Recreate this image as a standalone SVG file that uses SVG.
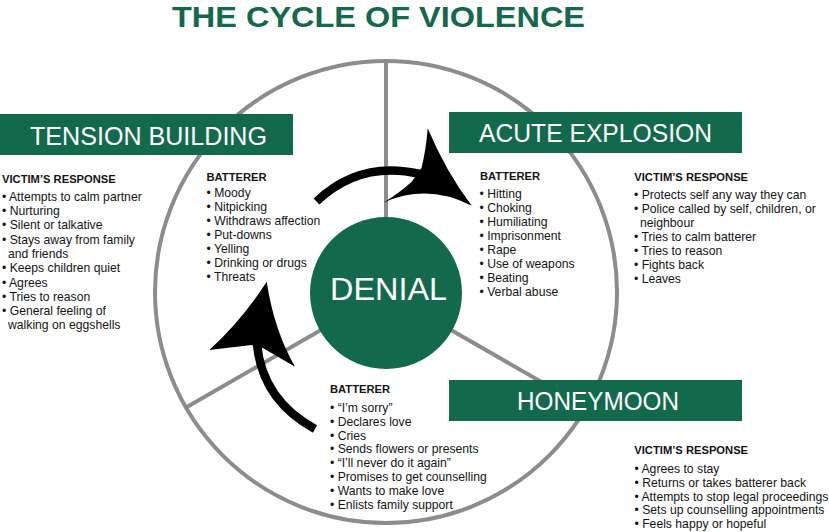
<svg xmlns="http://www.w3.org/2000/svg" width="829" height="532" viewBox="0 0 829 532">
<style>
  .bg { fill: #ffffff; }
  .ring { fill: none; stroke: #8c8c8f; stroke-width: 4; }
  .spoke { stroke: #8c8c8f; stroke-width: 4; }
  .box { fill: #13694b; }
  .hub { fill: #13694b; }
  .lbl { font-family: "Liberation Sans", Arial, sans-serif; fill: #ffffff; font-size: 25px; }
  .title { font-family: "Liberation Sans", Arial, sans-serif; fill: #13694b; font-size: 29.5px; font-weight: bold; }
  .t { font-family: "Liberation Sans", Arial, sans-serif; fill: #141414; font-size: 12.2px; }
  .h { font-weight: bold; font-size: 11.2px; }
  .shaft { fill: none; stroke: #000000; stroke-width: 8.5; }
  .head { fill: #000000; }
</style>
<rect class="bg" x="0" y="0" width="829" height="532"/>

<g id="title">
  <text class="title" x="172" y="27" textLength="413" lengthAdjust="spacingAndGlyphs">THE CYCLE OF VIOLENCE</text>
</g>

<g id="wheel">
  <circle class="ring" cx="386" cy="292" r="231"/>
  <line class="spoke" x1="386" y1="61" x2="386" y2="218"/>
  <line class="spoke" x1="321" y1="330" x2="186" y2="407.5"/>
  <line class="spoke" x1="451" y1="330" x2="586" y2="407.5"/>
</g>

<g id="denial">
  <circle class="hub" cx="386" cy="293" r="76"/>
  <text class="lbl" x="330" y="300" style="font-size:31px" textLength="117" lengthAdjust="spacingAndGlyphs">DENIAL</text>
</g>

<g id="tension-building">
  <rect class="box" x="0" y="114" width="293" height="41"/>
  <text class="lbl" x="30" y="145" textLength="237" lengthAdjust="spacingAndGlyphs">TENSION BUILDING</text>
  <text class="t h" x="2" y="182.7">VICTIM’S RESPONSE</text>
  <text class="t" x="2" y="200.7">• Attempts to calm partner</text>
  <text class="t" x="2" y="215">• Nurturing</text>
  <text class="t" x="2" y="229.3">• Silent or talkative</text>
  <text class="t" x="2" y="243.6">• Stays away from family</text>
  <text class="t" x="8" y="257.9">and friends</text>
  <text class="t" x="2" y="272.2">• Keeps children quiet</text>
  <text class="t" x="2" y="286.5">• Agrees</text>
  <text class="t" x="2" y="300.8">• Tries to reason</text>
  <text class="t" x="2" y="315.1">• General feeling of</text>
  <text class="t" x="8" y="329.4">walking on eggshells</text>
  <text class="t h" x="206.5" y="181">BATTERER</text>
  <text class="t" x="206.5" y="197.3">• Moody</text>
  <text class="t" x="206.5" y="211.3">• Nitpicking</text>
  <text class="t" x="206.5" y="225.3">• Withdraws affection</text>
  <text class="t" x="206.5" y="239.3">• Put-downs</text>
  <text class="t" x="206.5" y="253.3">• Yelling</text>
  <text class="t" x="206.5" y="267.3">• Drinking or drugs</text>
  <text class="t" x="206.5" y="281.3">• Threats</text>
</g>

<g id="acute-explosion">
  <rect class="box" x="449" y="112" width="293" height="41"/>
  <text class="lbl" x="479" y="142" textLength="233" lengthAdjust="spacingAndGlyphs">ACUTE EXPLOSION</text>
  <text class="t h" x="480" y="180">BATTERER</text>
  <text class="t" x="479.5" y="197.7">• Hitting</text>
  <text class="t" x="479.5" y="211.7">• Choking</text>
  <text class="t" x="479.5" y="225.7">• Humiliating</text>
  <text class="t" x="479.5" y="239.7">• Imprisonment</text>
  <text class="t" x="479.5" y="253.7">• Rape</text>
  <text class="t" x="479.5" y="267.7">• Use of weapons</text>
  <text class="t" x="479.5" y="281.7">• Beating</text>
  <text class="t" x="479.5" y="295.7">• Verbal abuse</text>
  <text class="t h" x="634.3" y="181">VICTIM’S RESPONSE</text>
  <text class="t" x="634" y="199.3">• Protects self any way they can</text>
  <text class="t" x="634" y="213.3">• Police called by self, children, or</text>
  <text class="t" x="640" y="227.3">neighbour</text>
  <text class="t" x="634" y="241.3">• Tries to calm batterer</text>
  <text class="t" x="634" y="255.3">• Tries to reason</text>
  <text class="t" x="634" y="269.3">• Fights back</text>
  <text class="t" x="634" y="283.3">• Leaves</text>
</g>

<g id="honeymoon">
  <rect class="box" x="449" y="380" width="293" height="41"/>
  <text class="lbl" x="517" y="410" textLength="162" lengthAdjust="spacingAndGlyphs">HONEYMOON</text>
  <text class="t h" x="330" y="393.3">BATTERER</text>
  <text class="t" x="330" y="411.7">• “I’m sorry”</text>
  <text class="t" x="330" y="425.6">• Declares love</text>
  <text class="t" x="330" y="439.5">• Cries</text>
  <text class="t" x="330" y="453.4">• Sends flowers or presents</text>
  <text class="t" x="330" y="467.3">• “I’ll never do it again”</text>
  <text class="t" x="330" y="481.2">• Promises to get counselling</text>
  <text class="t" x="330" y="495.1">• Wants to make love</text>
  <text class="t" x="330" y="509">• Enlists family support</text>
  <text class="t h" x="634.3" y="454">VICTIM’S RESPONSE</text>
  <text class="t" x="634.5" y="472.7">• Agrees to stay</text>
  <text class="t" x="634.5" y="486.6">• Returns or takes batterer back</text>
  <text class="t" x="634.5" y="500.5">• Attempts to stop legal proceedings</text>
  <text class="t" x="634.5" y="514.4">• Sets up counselling appointments</text>
  <text class="t" x="634.5" y="528.3">• Feels happy or hopeful</text>
</g>

<g id="connectors">
  <path class="shaft" d="M316.5,201.5 Q360,160 420,174"/>
  <path class="head" d="M427.7,128.3 Q426,150 421.5,168 L 411.5,182 Q 398,194 383.3,202.7 Q 427,183 471.7,205.7 Q 446,172 427.7,128.3 Z"/>
  <path class="shaft" d="M257,344 Q262,400 315,429"/>
  <path class="head" d="M266.7,281.7 Q 242,320 209.3,350 L 251.7,345 L 263.3,348.3 L 295,366.7 Q 274,330 266.7,281.7 Z"/>
</g>
</svg>
